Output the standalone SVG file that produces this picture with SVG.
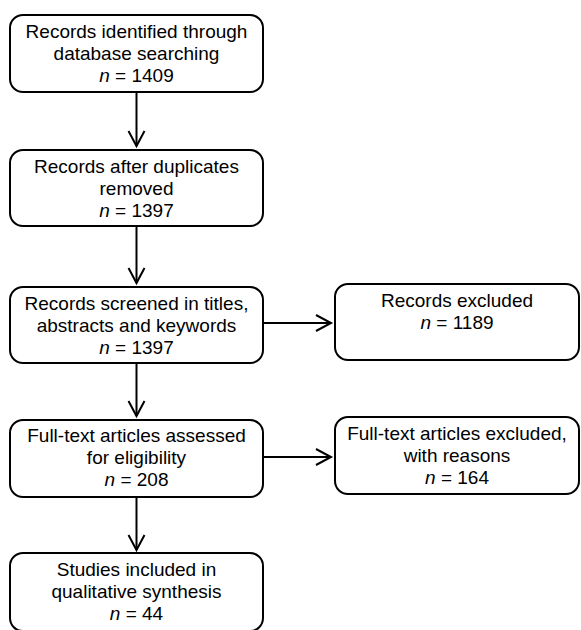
<svg xmlns="http://www.w3.org/2000/svg" width="581" height="630" viewBox="0 0 581 630">
<style>
.box{fill:#fff;stroke:#000;stroke-width:2}
.t{font-family:"Liberation Sans",Arial,sans-serif;font-size:19px;fill:#000;text-anchor:middle}
.c{fill:none;stroke:#000;stroke-width:2}
</style>
<defs>
<marker id="ah" markerUnits="userSpaceOnUse" markerWidth="20" markerHeight="20" viewBox="-16 -10 18 20" refX="0" refY="0" orient="auto">
<path d="M-15,-8 L0,0 L-15,8" fill="none" stroke="#000" stroke-width="2"/>
</marker>
</defs>
<rect width="581" height="630" fill="#fff"/>
<g id="connectors">
<line class="c" x1="136.5" y1="92" x2="136.5" y2="146" marker-end="url(#ah)"/>
<line class="c" x1="136.5" y1="226" x2="136.5" y2="283" marker-end="url(#ah)"/>
<line class="c" x1="136.5" y1="363" x2="136.5" y2="416" marker-end="url(#ah)"/>
<line class="c" x1="136.5" y1="497" x2="136.5" y2="550" marker-end="url(#ah)"/>
<line class="c" x1="263" y1="323" x2="331" y2="323" marker-end="url(#ah)"/>
<line class="c" x1="263" y1="457" x2="331" y2="457" marker-end="url(#ah)"/>
</g>
<g id="n1">
<rect class="box" x="10" y="15" width="253" height="77" rx="13"/>
<text class="t" x="136.5" y="38">Records identified through</text>
<text class="t" x="136.5" y="60">database searching</text>
<text class="t" x="136.5" y="82"><tspan font-style="italic">n</tspan> = 1409</text>
</g>
<g id="n2">
<rect class="box" x="10" y="150" width="253" height="76" rx="13"/>
<text class="t" x="136.5" y="173">Records after duplicates</text>
<text class="t" x="136.5" y="195">removed</text>
<text class="t" x="136.5" y="217"><tspan font-style="italic">n</tspan> = 1397</text>
</g>
<g id="n3">
<rect class="box" x="10" y="287" width="253" height="76" rx="13"/>
<text class="t" x="136.5" y="310">Records screened in titles,</text>
<text class="t" x="136.5" y="332">abstracts and keywords</text>
<text class="t" x="136.5" y="354"><tspan font-style="italic">n</tspan> = 1397</text>
</g>
<g id="n4">
<rect class="box" x="10" y="420" width="253" height="77" rx="13"/>
<text class="t" x="136.5" y="442">Full-text articles assessed</text>
<text class="t" x="136.5" y="464">for eligibility</text>
<text class="t" x="136.5" y="486"><tspan font-style="italic">n</tspan> = 208</text>
</g>
<g id="n5">
<rect class="box" x="10" y="553" width="253" height="78" rx="13"/>
<text class="t" x="136.5" y="576">Studies included in</text>
<text class="t" x="136.5" y="598">qualitative synthesis</text>
<text class="t" x="136.5" y="620"><tspan font-style="italic">n</tspan> = 44</text>
</g>
<g id="n6">
<rect class="box" x="335" y="284" width="244" height="76" rx="13"/>
<text class="t" x="457" y="307">Records excluded</text>
<text class="t" x="457" y="329"><tspan font-style="italic">n</tspan> = 1189</text>
</g>
<g id="n7">
<rect class="box" x="335" y="417" width="244" height="77" rx="13"/>
<text class="t" x="457" y="440">Full-text articles excluded,</text>
<text class="t" x="457" y="462">with reasons</text>
<text class="t" x="457" y="484"><tspan font-style="italic">n</tspan> = 164</text>
</g>
</svg>
